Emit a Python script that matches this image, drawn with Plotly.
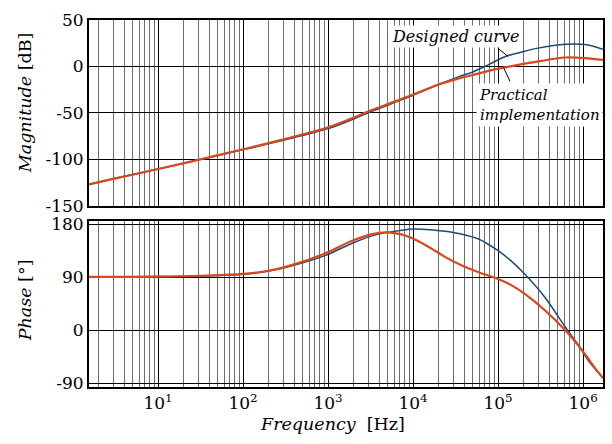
import numpy as np
import plotly.graph_objects as go

# ---------------- data ----------------
mag_logf = [0.188, 0.5, 1.0, 1.5, 2.0, 2.5, 3.0, 3.25, 3.5, 3.75, 4.0, 4.3, 4.54,
            4.69, 4.9, 5.08, 5.3, 5.47, 5.65, 5.79, 6.02, 6.234]
mag_designed = [-127, -120.5, -110.5, -100.2, -89.6, -79, -67, -58.5, -49, -40, -31,
                -19.5, -11, -6.4, 2.5, 10.5, 16, 19.7, 22.5, 23.8, 23.6, 18.5]
mag_practical = [-127, -120.5, -110.5, -100, -89.2, -78, -65.5, -57, -47.5, -39, -30.3,
                 -19.5, -13, -9.5, -4.5, -1.1, 2.8, 5.4, 8, 9.6, 9.0, 7.0]

ph_logf = [0.188, 1.0, 1.5, 2.0, 2.31, 2.62, 2.97, 3.29, 3.52, 3.68, 3.85, 3.99, 4.2,
           4.38, 4.6, 4.77, 5.0, 5.15, 5.31, 5.55, 5.79, 5.94, 6.05, 6.14, 6.234]
ph_designed = [90.5, 91, 92, 95, 100.5, 111, 127, 148, 160, 165.5, 169, 171.5, 170.5,
               167.7, 162, 154.8, 135, 118, 95.7, 56, 5.6, -24, -49, -65, -80]
ph_practical = [90.5, 91, 92.5, 95.7, 101.3, 112.6, 130.5, 152, 163, 166, 163, 156, 140,
                124, 108, 98.5, 87, 77, 62, 34, 0, -25, -46, -64, -81]

x_tick_vals = [1e1, 1e2, 1e3, 1e4, 1e5, 1e6]
x_tick_text = ["10<sup>1</sup>", "10<sup>2</sup>", "10<sup>3</sup>",
               "10<sup>4</sup>", "10<sup>5</sup>", "10<sup>6</sup>"]
mag_ticks = [50, 0, -50, -100, -150]
mag_tick_text = ["50", "0", "-50", "-100", "-150"]
ph_ticks = [180, 90, 0, -90]
ph_tick_text = ["180", "90", "0", "-90"]

# ---------------- styling ----------------
BLUE = "#1b4a78"
RED = "#d9481c"
FONT = "DejaVu Serif"
minor_vals = [d * 10 ** k for k in range(0, 7) for d in range(2, 10)]
xrange_log = [0.188, 6.234]

mag_f = [10 ** v for v in mag_logf]
ph_f = [10 ** v for v in ph_logf]

fig = go.Figure()
fig.add_trace(go.Scatter(x=mag_f, y=mag_designed, mode="lines", line=dict(color=BLUE, width=1.5, shape="spline"),
                         xaxis="x", yaxis="y", showlegend=False))
fig.add_trace(go.Scatter(x=mag_f, y=mag_practical, mode="lines", line=dict(color=RED, width=2.2, shape="spline"),
                         xaxis="x", yaxis="y", showlegend=False))
fig.add_trace(go.Scatter(x=ph_f, y=ph_designed, mode="lines", line=dict(color=BLUE, width=1.5, shape="spline"),
                         xaxis="x2", yaxis="y2", showlegend=False))
fig.add_trace(go.Scatter(x=ph_f, y=ph_practical, mode="lines", line=dict(color=RED, width=2.2, shape="spline"),
                         xaxis="x2", yaxis="y2", showlegend=False))

xcommon = dict(type="log", range=xrange_log, tickmode="array", tickvals=x_tick_vals,
               showgrid=True, gridcolor="#000000", gridwidth=1, zeroline=False,
               showline=True, linecolor="black", linewidth=2, mirror=True, ticks="",
               minor=dict(tickmode="array", tickvals=minor_vals, showgrid=True,
                          gridcolor="#6e6e6e", gridwidth=1, ticks=""),
               tickfont=dict(family=FONT, size=17, color="black"))

ycommon = dict(showgrid=True, gridcolor="#000000", gridwidth=1, zeroline=False,
               showline=True, linecolor="black", linewidth=2, mirror=True, ticks="",
               tickmode="array", tickfont=dict(family=FONT, size=17, color="black"))

fig.update_layout(
    width=612, height=444,
    margin=dict(l=89, r=7, t=20, b=57),
    paper_bgcolor="white", plot_bgcolor="white",
    font=dict(family=FONT, color="black"),
    xaxis=dict(**xcommon, domain=[0, 1], anchor="y", showticklabels=False),
    xaxis2=dict(**xcommon, domain=[0, 1], anchor="y2", ticktext=x_tick_text),
    yaxis=dict(**ycommon, domain=[0.494, 1], range=[-150, 50], tickvals=mag_ticks,
               ticktext=mag_tick_text, anchor="x"),
    yaxis2=dict(**ycommon, domain=[0, 0.452], range=[-96, 185], tickvals=ph_ticks,
                ticktext=ph_tick_text, anchor="x2"),
)

ann_font = dict(family=FONT, size=17.5, color="black")
fig.add_annotation(text="<i>Magnitude</i> [dB]", xref="paper", yref="paper", x=-0.124, y=0.774,
                   textangle=-90, showarrow=False, font=ann_font, xanchor="center", yanchor="middle")
fig.add_annotation(text="<i>Phase</i> [°]", xref="paper", yref="paper", x=-0.124, y=0.237,
                   textangle=-90, showarrow=False, font=ann_font, xanchor="center", yanchor="middle")
fig.add_annotation(text="<i>Frequency</i>  [Hz]", xref="paper", yref="paper", x=0.474, y=-0.10,
                   showarrow=False, font=ann_font, xanchor="center", yanchor="middle")

lbl_font = dict(family=FONT, size=16, color="black")
fig.add_annotation(text="<i>Designed curve</i>", xref="paper", yref="paper", x=0.713, y=0.956,
                   showarrow=False, font=lbl_font, bgcolor="white", xanchor="center", yanchor="middle",
                   borderpad=1)
fig.add_annotation(text="<i>Practical</i><br><i>implementation</i>", xref="paper", yref="paper",
                   x=0.753, y=0.768, align="left", showarrow=False,
                   font=dict(family=FONT, size=15, color="black"), bgcolor="white",
                   xanchor="left", yanchor="middle", borderpad=2)
# leader lines
fig.add_annotation(text="", x=5.12, y=10.4, xref="x", yref="y", showarrow=True, arrowhead=0,
                   arrowwidth=1, arrowcolor="black", ax=-12, ay=-10)
fig.add_annotation(text="", x=5.065, y=-1.4, xref="x", yref="y", showarrow=True, arrowhead=0,
                   arrowwidth=1, arrowcolor="black", ax=7, ay=15)

fig.write_html("out.html")
